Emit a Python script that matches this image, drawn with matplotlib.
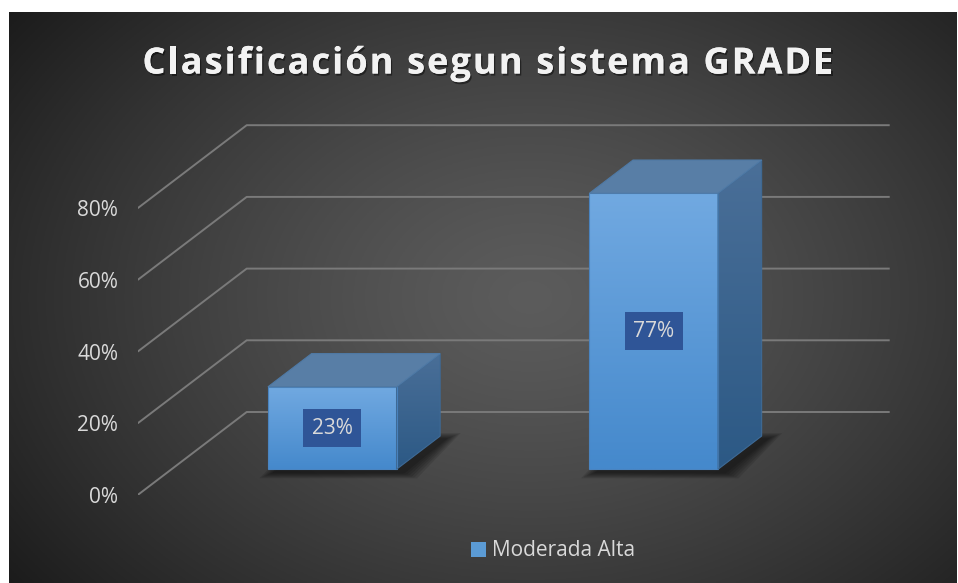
import numpy as np
import matplotlib
matplotlib.use("Agg")
import matplotlib.pyplot as plt
from matplotlib.patches import Polygon, Patch
import matplotlib.patheffects as pe

# Data
categories = ["Moderada", "Alta"]
values = [23, 77]            # percent
series_name = "Moderada Alta"
yticks = [0, 20, 40, 60, 80]
ytick_labels = ["0%", "20%", "40%", "60%", "80%"]
title = "Clasificación segun sistema GRADE"

FONT = "Open Sans"
W, H = 958, 583
fig = plt.figure(figsize=(W / 100, H / 100), dpi=100, facecolor="white")

# Background with radial gradient
bg = fig.add_axes([9 / W, 0, 948 / W, 571 / H])
bg.set_axis_off()
gx, gy = np.meshgrid(np.linspace(0, 1, 400), np.linspace(0, 1, 250))
r = np.sqrt(((gx - 0.55) / 0.62) ** 2 + ((gy - 0.5) / 0.75) ** 2)
shade = 0.36 - 0.22 * np.clip(r, 0, 1.2) ** 1.3
bg.imshow(np.dstack([shade] * 3), extent=[0, 1, 0, 1], aspect="auto", origin="lower")
bg.set_xlim(0, 1)
bg.set_ylim(0, 1)

# Oblique 3D frame: front plane in data coords, depth shift in data units
px_x = 321.5   # pixels per category
px_y = 3.585   # pixels per percent
ddx, ddy = 109 / px_x, 83 / px_y
z1, z2 = 0.31, 0.71
half_w = 0.2
x0_px, y0_px = 137.7, 495
xlim = (-0.5, 1.85)
ylim = (0, 105)
ax = fig.add_axes([x0_px / W, (H - y0_px) / H,
                   (xlim[1] - xlim[0]) * px_x / W, (ylim[1] - ylim[0]) * px_y / H])
ax.set_xlim(*xlim)
ax.set_ylim(*ylim)
ax.patch.set_visible(False)
for s in ax.spines.values():
    s.set_visible(False)
ax.set_xticks([])
ax.set_yticks(yticks)
ax.set_yticklabels(ytick_labels)
ax.tick_params(axis="y", length=0, pad=14, labelcolor="#D9D9D9", labelsize=15)
for lab in ax.get_yticklabels():
    lab.set_fontfamily(FONT)

# Gridlines: side wall diagonal + back wall horizontal
for t in yticks:
    ax.plot([-0.5, -0.5 + ddx, 1.5 + ddx], [t, t + ddy, t + ddy],
            color="#7A7A7A", lw=1.4, zorder=1, solid_capstyle="butt")


def gradient_fill(poly, top_color, bottom_color, z):
    verts = np.array(poly.get_xy())
    x_lo, x_hi = verts[:, 0].min(), verts[:, 0].max()
    y_lo, y_hi = verts[:, 1].min(), verts[:, 1].max()
    c1 = np.array(matplotlib.colors.to_rgb(bottom_color))
    c2 = np.array(matplotlib.colors.to_rgb(top_color))
    f = np.linspace(0, 1, 100)[:, None]
    img = (c1 + (c2 - c1) * f)[:, None, :]
    im = ax.imshow(img, extent=[x_lo, x_hi, y_lo, y_hi], origin="lower",
                   aspect="auto", zorder=z, interpolation="bilinear")
    ax.add_patch(poly)
    im.set_clip_path(poly)


for i, v in enumerate(values):
    xl, xr = i - half_w, i + half_w
    # soft shadow on the floor (footprint, nudged right/down, blurred by layers)
    for k in range(6):
        ex = (2 + 2.5 * k) / px_x
        ey = (1 + 1.0 * k) / px_y
        sx = 6 / px_x
        sy = -3 / px_y
        sh = Polygon([(xl + z1 * ddx - ex + sx, z1 * ddy - ey + sy),
                      (xr + z1 * ddx + ex + sx, z1 * ddy - ey + sy),
                      (xr + z2 * ddx + ex + sx, z2 * ddy + ey + sy),
                      (xl + z2 * ddx - ex + sx, z2 * ddy + ey + sy)],
                     closed=True, facecolor="black", edgecolor="none", alpha=0.11, zorder=2)
        ax.add_patch(sh)
    # front face
    front = Polygon([(xl + z1 * ddx, z1 * ddy), (xr + z1 * ddx, z1 * ddy),
                     (xr + z1 * ddx, v + z1 * ddy), (xl + z1 * ddx, v + z1 * ddy)],
                    closed=True, facecolor="none", edgecolor="#4A84C0", lw=0.8, zorder=5)
    gradient_fill(front, "#71A9E1", "#4589CC", 4)
    # right side face
    side = Polygon([(xr + z1 * ddx, z1 * ddy), (xr + z2 * ddx, z2 * ddy),
                    (xr + z2 * ddx, v + z2 * ddy), (xr + z1 * ddx, v + z1 * ddy)],
                   closed=True, facecolor="none", edgecolor="#3E6A96", lw=0.8, zorder=5)
    gradient_fill(side, "#4A6F98", "#2C5985", 4)
    # top face
    top = Polygon([(xl + z1 * ddx, v + z1 * ddy), (xr + z1 * ddx, v + z1 * ddy),
                   (xr + z2 * ddx, v + z2 * ddy), (xl + z2 * ddx, v + z2 * ddy)],
                  closed=True, facecolor="#587EA6", edgecolor="#4F7AA6", lw=0.8, zorder=5)
    ax.add_patch(top)
    # data label
    ax.text(i + z1 * ddx, z1 * ddy + v / 2, f"{v}%", ha="center", va="center",
            fontsize=15, color="#D9D9D9", family=FONT, zorder=6,
            bbox=dict(boxstyle="square,pad=0.4", fc="#2F5597", ec="none"))

# Title with letter spacing
fig.canvas.draw()
rend = fig.canvas.get_renderer()
tprops = dict(fontsize=26, fontweight="bold", family=FONT, color="#F2F2F2")


def text_w(s):
    t = fig.text(0, 0, s, **tprops)
    w = t.get_window_extent(rend).width
    t.remove()
    return w


bar_w = text_w("|")
plain = text_w(title)
target = 691
sp = (target - plain) / (len(title) - 1)
start = 488 - target / 2
for i, ch in enumerate(title):
    if ch == " ":
        continue
    xpos = start + (text_w(title[:i] + "|") - bar_w if i > 0 else 0) + i * sp
    fig.text(xpos / W, (H - 73.5) / H, ch, ha="left", va="baseline", **tprops,
             path_effects=[pe.withSimplePatchShadow(offset=(1, -1.5), alpha=0.45, shadow_rgbFace="black"),
                           pe.Normal()])

# Legend
leg = fig.legend(handles=[Patch(facecolor="#5B9BD5", edgecolor="none", label=series_name)],
                 loc="center", bbox_to_anchor=(553 / W, (H - 551) / H), frameon=False,
                 handlelength=0.7, handleheight=0.7, handletextpad=0.3,
                 prop={"family": FONT, "size": 15})
for txt in leg.get_texts():
    txt.set_color("#D9D9D9")

fig.savefig("out.png", dpi=100, facecolor="white")
